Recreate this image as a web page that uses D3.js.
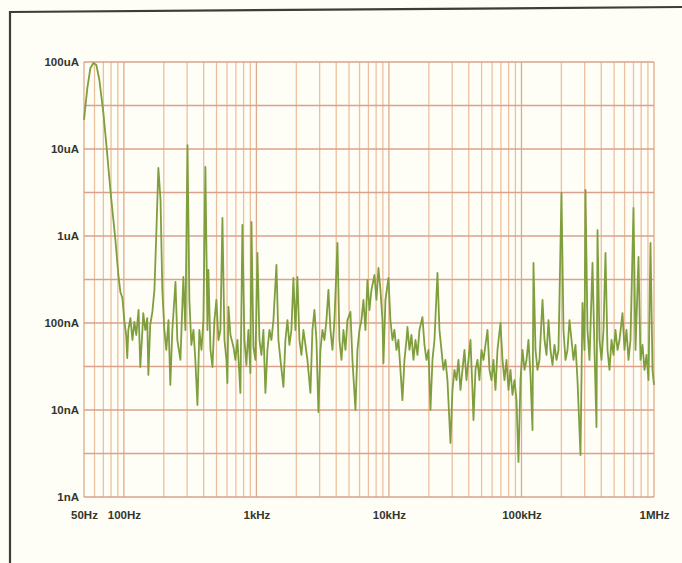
<!DOCTYPE html>
<html>
<head>
<meta charset="utf-8">
<script src="https://cdn.jsdelivr.net/npm/d3@7"></script>
<style>
  html, body { margin: 0; padding: 0; background: #fefef6; }
  .canvas { width: 682px; height: 563px; }
  text { font-family: "Liberation Sans", Arial, sans-serif; }
</style>
</head>
<body>
<div class="canvas"></div>
<script>
// frequency of each sample (Hz)
const freqs = [
  50, 53.0, 55.9, 58.9, 62.0, 65.3, 70.0, 73.8, 79.1, 83.3, 86.3, 90.9, 94.1, 97.4,
  101, 104, 106, 108, 112, 116, 120, 124, 129, 133, 138, 140, 145, 150, 153, 158,
  164, 170, 176, 182, 189, 195, 202, 209, 217, 224, 232, 245, 253, 267, 281, 291,
  302, 312, 323, 335, 346, 359, 371, 385, 398, 412, 427, 434, 450, 466, 482, 499,
  517, 535, 554, 574, 594, 604, 615, 637, 671, 694, 719, 757, 784, 812, 840, 870,
  901, 917, 949, 983,
  1018, 1054, 1091, 1129, 1169, 1211, 1254, 1298, 1344, 1416, 1466, 1518, 1599,
  1655, 1714, 1774, 1837, 1902, 1969, 2039, 2111, 2186, 2263, 2343, 2426, 2556,
  2646, 2740, 2837, 2937, 3041, 3148, 3260, 3376, 3495, 3619, 3747, 3879, 4087,
  4231, 4381, 4536, 4696, 4862, 5122, 5303, 5587, 5785, 5990, 6201, 6421, 6647,
  6882, 7126, 7379, 7776, 8049, 8332, 8627, 8933, 9088, 9410, 9913,
  10260, 10630, 11000, 11390, 11790, 12210, 12640, 13090, 13560, 13790, 14280,
  14790, 15310, 15850, 16410, 16990, 17900, 18540, 19190, 19870, 20570, 21300,
  22050, 23230, 24050, 24900, 25780, 26690, 27630, 29120, 30150, 31220, 32320,
  33460, 34640, 35870, 37140, 38450, 39810, 41220, 42680, 43430, 44970, 46560,
  48200, 49910, 51680, 53500, 55400, 57350, 59380, 61480, 63650, 65910, 69430,
  71890, 74430, 77070, 79800, 82600, 85530, 88560, 91690, 94930, 98290,
  101800, 105400, 109100, 112900, 116900, 121100, 123200, 127600, 132100, 136700,
  144100, 149200, 154400, 159900, 165500, 171400, 177400, 183700, 190200, 200400,
  207500, 214800, 222400, 230300, 238500, 246900, 255600, 264600, 278800, 288600,
  298900, 304100, 314800, 326000, 343500, 355600, 368100, 374700, 387900, 401600,
  415800, 430500, 445700, 461500, 477800, 494600, 512200, 530300, 549100, 578500,
  599000, 620100, 642100, 664700, 700300, 725100, 763800, 791000, 818900, 847900,
  877900, 908800, 941000, 974300, 1000000
];

// measured current at each frequency (nA)
const currents = [
  21600, 50300, 85300, 97400, 92400, 62100, 26000, 11100, 3380, 1530, 900, 356, 227, 194,
  103, 72.8, 39.6, 83.1, 114, 63.8, 103, 72.8, 141, 31.2, 83.1, 130, 83.1, 114, 25.3, 94.8,
  134, 240, 1170, 6050, 2600, 240, 83.1, 49.0, 108, 19.4, 83.1, 296, 63.8, 37.6, 338, 83.1,
  11100, 184, 55.9, 83.1, 37.6, 11.4, 83.1, 49.0, 108, 6210, 83.1, 407, 49.0, 31.2, 108, 184,
  63.8, 83.1, 1610, 63.8, 37.6, 20.4, 153, 72.8, 53.0, 37.6, 63.8, 15.7, 1340, 63.8, 32.9, 83.1,
  26.6, 1450, 53.0, 37.6,
  638, 63.8, 42.9, 83.1, 15.7, 49.0, 83.1, 63.8, 108, 464, 63.8, 37.6, 18.4,
  63.8, 108, 55.9, 83.1, 329, 83.1, 338, 63.8, 42.9, 83.1, 55.9, 37.6, 15.7,
  83.1, 141, 63.8, 9.48, 49.0, 83.1, 63.8, 108, 240, 83.1, 49.0, 108, 831,
  63.8, 37.6, 83.1, 49.0, 108, 134, 37.6, 10, 49.0, 83.1, 108, 184, 83.1,
  312, 141, 240, 356, 184, 429, 240, 108, 34.7, 184, 329,
  108, 63.8, 83.1, 49.0, 63.8, 28.9, 13.0, 37.6, 63.8, 90.0, 49.0,
  72.8, 37.6, 63.8, 42.9, 83.1, 117, 55.9, 37.6, 49.0, 10, 37.6,
  63.8, 376, 83.1, 49.0, 28.9, 37.6, 22.1, 4.18, 17.0, 28.9, 22.1,
  37.6, 17.0, 28.9, 49.0, 22.1, 37.6, 63.8, 17.0, 7.67, 28.9, 37.6,
  22.1, 49.0, 37.6, 55.9, 83.1, 28.9, 22.1, 37.6, 17.0, 49.0, 100,
  37.6, 22.1, 37.6, 17.0, 28.9, 14.9, 22.1, 13.0, 2.53, 22.1,
  49.0, 28.9, 37.6, 63.8, 25.3, 5.89, 490, 49.0, 28.9, 37.6,
  184, 63.8, 42.9, 108, 49.0, 32.9, 55.9, 37.6, 49.0, 3120,
  83.1, 37.6, 49.0, 108, 63.8, 37.6, 55.9, 22.1, 3.04, 170,
  49.0, 3380, 83.1, 37.6, 490, 49.0, 6.38, 1170, 63.8, 37.6,
  83.1, 638, 49.0, 28.9, 63.8, 42.9, 83.1, 49.0, 63.8, 130,
  49.0, 83.1, 37.6, 63.8, 2100, 49.0, 574, 37.6, 55.9, 28.9,
  42.9, 22.1, 831, 28.9, 19.4
];

// axis ticks
const xTicks = [50, 100, 1000, 10000, 100000, 1000000];
const xTickLabels = ['50Hz', '100Hz', '1kHz', '10kHz', '100kHz', '1MHz'];
const yTicks = [1, 10, 100, 1000, 10000, 100000];
const yTickLabels = ['1nA', '10nA', '100nA', '1uA', '10uA', '100uA'];
// horizontal grid: every decade and half decade
const yGrid = [1, 3.162, 10, 31.62, 100, 316.2, 1000, 3162, 10000, 31623, 100000];

const width = 682;
const height = 563;
const margin = { top: 62, right: 28, bottom: 66, left: 84 };
const graphWidth = width - margin.left - margin.right;
const graphHeight = height - margin.top - margin.bottom;

const svg = d3.select('.canvas')
  .append('svg')
  .attr('width', width)
  .attr('height', height);

// outer frame (scanned page edge)
svg.append('line')
  .attr('x1', 10).attr('y1', 12).attr('x2', 682).attr('y2', 7)
  .attr('stroke', '#3b3e31').attr('stroke-width', 2.2);
svg.append('line')
  .attr('x1', 10).attr('y1', 11).attr('x2', 10).attr('y2', 563)
  .attr('stroke', '#3b3e31').attr('stroke-width', 2.2);

const graph = svg.append('g')
  .attr('transform', `translate(${margin.left}, ${margin.top})`);

// scales
const x = d3.scaleLog()
  .domain([50, 1000000])
  .range([0, graphWidth]);
const y = d3.scaleLog()
  .domain([1, 100000])
  .range([graphHeight, 0]);

// vertical grid 1..9 per decade
graph.append('g')
  .selectAll('line')
  .data(x.ticks())
  .enter()
  .append('line')
  .attr('x1', d => x(d)).attr('x2', d => x(d))
  .attr('y1', 0).attr('y2', graphHeight)
  .attr('stroke', d => xTicks.includes(d) ? '#dfaa8a' : '#ecc09e')
  .attr('stroke-width', 1.3);

// horizontal grid
graph.append('g')
  .selectAll('line')
  .data(yGrid)
  .enter()
  .append('line')
  .attr('x1', 0).attr('x2', graphWidth)
  .attr('y1', d => y(d)).attr('y2', d => y(d))
  .attr('stroke', '#dba18d')
  .attr('stroke-width', 1.3);

// axes (labels only)
const xAxis = d3.axisBottom(x)
  .tickValues(xTicks)
  .tickFormat((d, i) => xTickLabels[i])
  .tickSize(0)
  .tickPadding(14);
const yAxis = d3.axisLeft(y)
  .tickValues(yTicks)
  .tickFormat((d, i) => yTickLabels[i])
  .tickSize(0)
  .tickPadding(5);

const xAxisGroup = graph.append('g')
  .attr('transform', `translate(0, ${graphHeight})`)
  .call(xAxis);
const yAxisGroup = graph.append('g')
  .call(yAxis);

[xAxisGroup, yAxisGroup].forEach(g => {
  g.select('.domain').remove();
  g.selectAll('text')
    .attr('fill', '#34352d')
    .attr('font-size', 11.5)
    .attr('font-weight', 'bold')
    .attr('font-family', '"Liberation Sans", Arial, sans-serif');
});

// spectrum trace
const data = freqs.map((f, i) => ({ f: f, a: currents[i] }));
const line = d3.line()
  .x(d => x(d.f))
  .y(d => y(d.a));

graph.append('path')
  .datum(data)
  .attr('fill', 'none')
  .attr('stroke', '#7f9e3e')
  .attr('stroke-width', 1.8)
  .attr('stroke-linejoin', 'round')
  .attr('d', line);
</script>
</body>
</html>
